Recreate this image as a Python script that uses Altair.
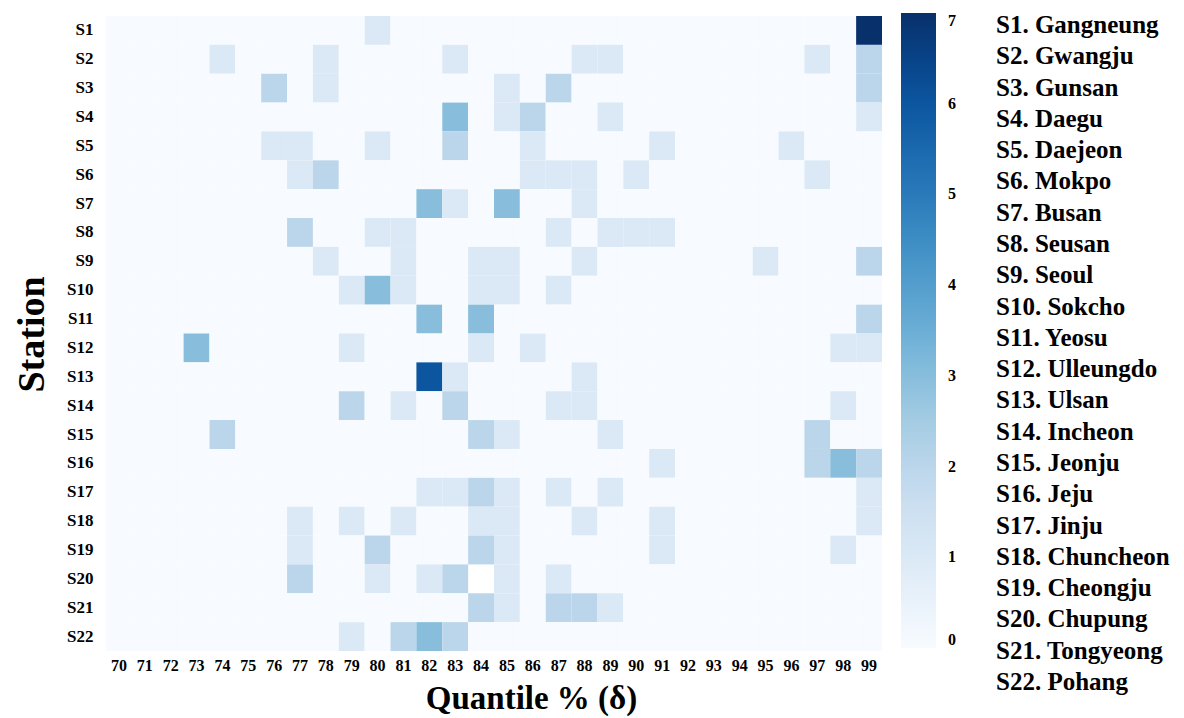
import altair as alt
import pandas as pd

quantiles = list(range(70, 100))
stations = [f"S{i}" for i in range(1, 23)]
station_names = ["Gangneung", "Gwangju", "Gunsan", "Daegu", "Daejeon", "Mokpo", "Busan",
                 "Seusan", "Seoul", "Sokcho", "Yeosu", "Ulleungdo", "Ulsan", "Incheon",
                 "Jeonju", "Jeju", "Jinju", "Chuncheon", "Cheongju", "Chupung",
                 "Tongyeong", "Pohang"]

# counts per station, quantile 70 .. 99
S1 = [0,0,0,0,0,0,0,0,0,0, 1,0,0,0,0,0,0,0,0,0, 0,0,0,0,0,0,0,0,0,7]
S2 = [0,0,0,0,1,0,0,0,1,0, 0,0,0,1,0,0,0,0,1,1, 0,0,0,0,0,0,0,1,0,2]
S3 = [0,0,0,0,0,0,2,0,1,0, 0,0,0,0,0,1,0,2,0,0, 0,0,0,0,0,0,0,0,0,2]
S4 = [0,0,0,0,0,0,0,0,0,0, 0,0,0,3,0,1,2,0,0,1, 0,0,0,0,0,0,0,0,0,1]
S5 = [0,0,0,0,0,0,1,1,0,0, 1,0,0,2,0,0,1,0,0,0, 0,1,0,0,0,0,1,0,0,0]
S6 = [0,0,0,0,0,0,0,1,2,0, 0,0,0,0,0,0,1,1,1,0, 1,0,0,0,0,0,0,1,0,0]
S7 = [0,0,0,0,0,0,0,0,0,0, 0,0,3,1,0,3,0,0,1,0, 0,0,0,0,0,0,0,0,0,0]
S8 = [0,0,0,0,0,0,0,2,0,0, 1,1,0,0,0,0,0,1,0,1, 1,1,0,0,0,0,0,0,0,0]
S9 = [0,0,0,0,0,0,0,0,1,0, 0,1,0,0,1,1,0,0,1,0, 0,0,0,0,0,1,0,0,0,2]
S10 = [0,0,0,0,0,0,0,0,0,1, 3,1,0,0,1,1,0,1,0,0, 0,0,0,0,0,0,0,0,0,0]
S11 = [0,0,0,0,0,0,0,0,0,0, 0,0,3,0,3,0,0,0,0,0, 0,0,0,0,0,0,0,0,0,2]
S12 = [0,0,0,3,0,0,0,0,0,1, 0,0,0,0,1,0,1,0,0,0, 0,0,0,0,0,0,0,0,1,1]
S13 = [0,0,0,0,0,0,0,0,0,0, 0,0,6,1,0,0,0,0,1,0, 0,0,0,0,0,0,0,0,0,0]
S14 = [0,0,0,0,0,0,0,0,0,2, 0,1,0,2,0,0,0,1,1,0, 0,0,0,0,0,0,0,0,1,0]
S15 = [0,0,0,0,2,0,0,0,0,0, 0,0,0,0,2,1,0,0,0,1, 0,0,0,0,0,0,0,2,0,0]
S16 = [0,0,0,0,0,0,0,0,0,0, 0,0,0,0,0,0,0,0,0,0, 0,1,0,0,0,0,0,2,3,2]
S17 = [0,0,0,0,0,0,0,0,0,0, 0,0,1,1,2,1,0,1,0,1, 0,0,0,0,0,0,0,0,0,1]
S18 = [0,0,0,0,0,0,0,1,0,1, 0,1,0,0,1,1,0,0,1,0, 0,1,0,0,0,0,0,0,0,1]
S19 = [0,0,0,0,0,0,0,1,0,0, 2,0,0,0,2,1,0,0,0,0, 0,1,0,0,0,0,0,0,1,0]
S20 = [0,0,0,0,0,0,0,2,0,0, 1,0,1,2,None,1,0,1,0,0, 0,0,0,0,0,0,0,0,0,0]
S21 = [0,0,0,0,0,0,0,0,0,0, 0,0,0,0,2,1,0,2,2,1, 0,0,0,0,0,0,0,0,0,0]
S22 = [0,0,0,0,0,0,0,0,0,1, 0,2,3,2,0,0,0,0,0,0, 0,0,0,0,0,0,0,0,0,0]

rows = [S1, S2, S3, S4, S5, S6, S7, S8, S9, S10, S11, S12, S13, S14, S15, S16,
        S17, S18, S19, S20, S21, S22]

records = []
for st, row in zip(stations, rows):
    for q, v in zip(quantiles, row):
        if v is not None:
            records.append({"station": st, "q": q, "value": v})
heat_df = pd.DataFrame(records)

names_df = pd.DataFrame({"label": [f"{s}. {n}" for s, n in zip(stations, station_names)]})

FONT = "Liberation Serif"
blues = ["#f7fbff", "#deebf7", "#c6dbef", "#9ecae1", "#6baed6",
         "#4292c6", "#2171b5", "#08519c", "#08306b"]
dom = [i * 7 / 8 for i in range(9)]

heat = alt.Chart(heat_df).mark_rect().encode(
    x=alt.X("q:O", sort=quantiles,
            scale=alt.Scale(paddingInner=0, paddingOuter=0),
            axis=alt.Axis(labelAngle=0, ticks=False, domain=False, labelPadding=6,
                          labelFont=FONT, labelFontWeight="bold", labelFontSize=16,
                          labelColor="black",
                          title="Quantile % (δ)", titleFont=FONT, titleFontWeight="bold",
                          titleFontSize=33, titleColor="black",
                          titleX=425, titleY=57, titleAlign="center",
                          titleBaseline="alphabetic")),
    y=alt.Y("station:N", sort=stations,
            scale=alt.Scale(paddingInner=0, paddingOuter=0),
            axis=alt.Axis(ticks=False, domain=False, labelPadding=13,
                          labelFont=FONT, labelFontWeight="bold", labelFontSize=17,
                          labelColor="black",
                          title="Station", titleFont=FONT, titleFontWeight="bold",
                          titleFontSize=38, titleColor="black", titleAngle=270,
                          titleX=-63, titleY=318, titleAlign="center",
                          titleBaseline="alphabetic")),
    color=alt.Color("value:Q",
                    scale=alt.Scale(type="linear", domain=dom, range=blues,
                                    interpolate="rgb"),
                    legend=alt.Legend(orient="none", legendX=795, legendY=-3,
                                      direction="vertical", title=None,
                                      values=[0, 1, 2, 3, 4, 5, 6, 7], format="d",
                                      gradientLength=635, gradientThickness=35,
                                      gradientStrokeWidth=0, padding=0,
                                      labelFont=FONT, labelFontWeight="bold",
                                      labelFontSize=16, labelColor="black",
                                      labelOffset=12)),
)

names = alt.Chart(names_df).mark_text(
    align="left", baseline="alphabetic", font=FONT, fontWeight="bold",
    fontSize=25, color="black"
).encode(
    x=alt.value(890),
    y=alt.Y("label:N", sort=list(names_df["label"]),
            scale=alt.Scale(type="point", range=[17, 674], padding=0),
            axis=None),
    text="label:N",
)

chart = alt.layer(heat, names).resolve_scale(y="independent").properties(
    width=776, height=635,
    autosize=alt.AutoSizeParams(type="none"),
    padding={"left": 98, "top": 8, "right": 294, "bottom": 70},
).configure_view(stroke=None)

chart.save("out.html", embed_options={"renderer": "svg", "actions": False})
